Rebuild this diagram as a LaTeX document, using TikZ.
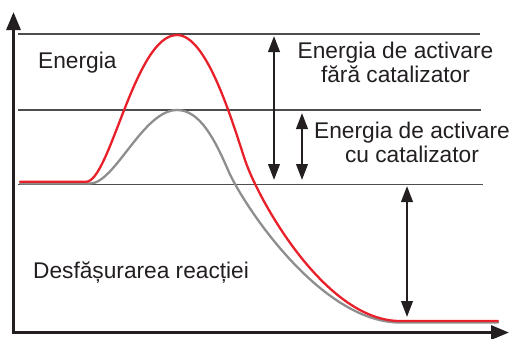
\documentclass[tikz,border=0pt]{standalone}
\usepackage{fontspec}
\setmainfont{Liberation Sans}
\usetikzlibrary{arrows.meta}
\definecolor{txt}{HTML}{231F20}
\definecolor{redc}{HTML}{E8202A}
\definecolor{grayc}{HTML}{8E8E8E}
\definecolor{linec}{HTML}{4D4D4D}
\tikzset{
  lbl/.style={text=txt,font=\fontsize{22.7}{24}\selectfont,inner sep=0pt},
  axis/.style={draw=txt,line width=3pt,-{Triangle[length=18pt,width=14pt]}},
  level/.style={draw=linec,line width=1.2pt},
  dimarrow/.style={draw=txt,line width=2.4pt,{Triangle[length=16pt,width=11.5pt]}-{Triangle[length=16pt,width=11.5pt]}},
  curve/.style={line width=2.3pt,line join=round,line cap=round}
}
\begin{document}
\begin{tikzpicture}[x=1pt,y=-1pt]
\useasboundingbox (0,0) rectangle (513,338);
% axes
\coordinate (O) at (13.5,332.5);
\coordinate (Ytip) at (13.5,12);
\coordinate (Xtip) at (509,332.5);
\draw[axis] (O) -- (Ytip);
\draw[axis] ([xshift=-1.5pt]O) -- (Xtip);
% levels
\coordinate (L1a) at (18,34); \coordinate (L1b) at (480,34);
\coordinate (L2a) at (18,110); \coordinate (L2b) at (481,110);
\coordinate (L3a) at (18,184.5); \coordinate (L3b) at (483,184.5);
\draw[level] (L1a) -- (L1b);
\draw[level] (L2a) -- (L2b);
\draw[level] (L3a) -- (L3b);
% curves
\draw[curve,draw=grayc] (20,183.5) -- (90,183.5) .. controls (115,183.5) and (143,110) .. (177,110)
  .. controls (200,110) and (215,140) .. (228,170)
  .. controls (242,203) and (320,322.5) .. (400,322.5) -- (498,322.5);
\draw[curve,draw=redc] (20,181.8) -- (86,181.8) .. controls (110,181.8) and (135,35) .. (177,35)
  .. controls (207,35) and (232,121) .. (245,160)
  .. controls (258,199) and (325,321) .. (400,321) -- (498,321);
% dimension arrows
\coordinate (A1t) at (274,36); \coordinate (A1b) at (274,180);
\coordinate (A2t) at (302,113); \coordinate (A2b) at (302,180);
\coordinate (A3t) at (407,186); \coordinate (A3b) at (407,317);
\draw[dimarrow] (A1t) -- (A1b);
\draw[dimarrow] (A2t) -- (A2b);
\draw[dimarrow] (A3t) -- (A3b);
% labels
\node[lbl,anchor=base west] (en) at (38,68) {Energia};
\node[lbl,anchor=base,align=center] (ea1) at (395.5,82) {Energia de activare\\fără catalizator};
\node[lbl,anchor=base,align=center] (ea2) at (412,162) {Energia de activare\\cu catalizator};
\node[lbl,anchor=base west] (ds) at (33,278) {Desfășurarea reacției};
\end{tikzpicture}
\end{document}
